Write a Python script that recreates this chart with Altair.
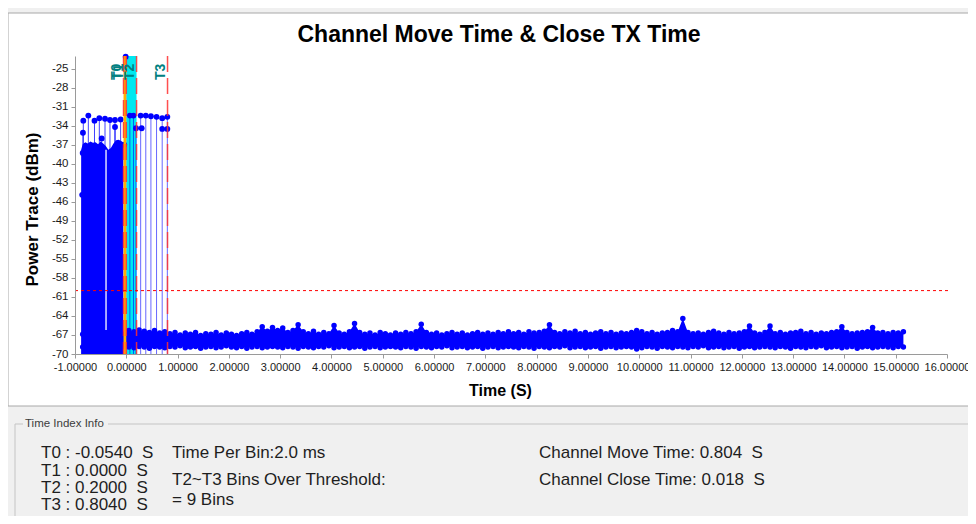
import altair as alt
import pandas as pd

# ---------------- data ----------------
noise_t = [
    -0.85, -0.75, -0.65, -0.55, -0.45, -0.35, -0.25, -0.15, -0.05, 0.05,
    0.15, 0.25, 0.35, 0.45, 0.55, 0.65, 0.75, 0.85, 0.95, 1.05,
    1.15, 1.25, 1.35, 1.45, 1.55, 1.65, 1.75, 1.85, 1.95, 2.05,
    2.15, 2.25, 2.35, 2.45, 2.55, 2.65, 2.75, 2.85, 2.95, 3.05,
    3.15, 3.25, 3.35, 3.45, 3.55, 3.65, 3.75, 3.85, 3.95, 4.05,
    4.15, 4.25, 4.35, 4.45, 4.55, 4.65, 4.75, 4.85, 4.95, 5.05,
    5.15, 5.25, 5.35, 5.45, 5.55, 5.65, 5.75, 5.85, 5.95, 6.05,
    6.15, 6.25, 6.35, 6.45, 6.55, 6.65, 6.75, 6.85, 6.95, 7.05,
    7.15, 7.25, 7.35, 7.45, 7.55, 7.65, 7.75, 7.85, 7.95, 8.05,
    8.15, 8.25, 8.35, 8.45, 8.55, 8.65, 8.75, 8.85, 8.95, 9.05,
    9.15, 9.25, 9.35, 9.45, 9.55, 9.65, 9.75, 9.85, 9.95, 10.05,
    10.15, 10.25, 10.35, 10.45, 10.55, 10.65, 10.75, 10.85, 10.95, 11.05,
    11.15, 11.25, 11.35, 11.45, 11.55, 11.65, 11.75, 11.85, 11.95, 12.05,
    12.15, 12.25, 12.35, 12.45, 12.55, 12.65, 12.75, 12.85, 12.95, 13.05,
    13.15, 13.25, 13.35, 13.45, 13.55, 13.65, 13.75, 13.85, 13.95, 14.05,
    14.15, 14.25, 14.35, 14.45, 14.55, 14.65, 14.75, 14.85, 14.95, 15.05,
    15.15,
]
noise_hi = [
    -66.9, -67.0, -66.8, -67.1, -66.9, -67.0, -66.8, -67.0, -66.9, -66.3,
    -66.5, -66.2, -66.4, -66.6, -66.3, -66.7, -66.5, -66.8, -66.6, -67.0,
    -66.7, -66.9, -66.6, -67.1, -66.8, -66.9, -66.6, -67.0, -66.7, -66.9,
    -67.1, -66.8, -66.6, -66.9, -66.5, -65.7, -66.4, -65.8, -66.3, -65.9,
    -66.6, -66.3, -65.4, -66.5, -66.8, -66.4, -66.9, -66.6, -66.8, -65.5,
    -66.7, -66.9, -66.5, -65.2, -66.6, -66.9, -66.7, -67.0, -66.6, -66.8,
    -67.0, -66.7, -66.9, -66.6, -66.8, -66.5, -65.3, -66.6, -66.9, -66.7,
    -67.0, -66.8, -66.6, -66.9, -66.7, -67.0, -66.8, -66.6, -66.9, -66.7,
    -66.9, -66.6, -66.8, -66.5, -66.8, -66.6, -66.9, -66.5, -66.7, -66.6,
    -66.4, -65.4, -66.6, -66.8, -66.5, -66.7, -66.4, -66.8, -66.6, -66.9,
    -66.7, -66.5, -66.8, -66.6, -66.9, -66.7, -66.8, -66.6, -66.3, -66.5,
    -66.8, -66.6, -66.9, -66.7, -66.6, -66.3, -66.5, -64.4, -66.6, -66.8,
    -66.7, -66.9, -66.6, -66.4, -66.7, -66.9, -66.6, -66.8, -66.7, -66.5,
    -65.6, -66.7, -66.9, -66.6, -65.6, -66.8, -66.6, -66.9, -66.7, -66.6,
    -66.4, -66.8, -66.6, -66.9, -66.7, -66.8, -66.6, -66.5, -65.7, -66.6,
    -66.8, -66.7, -66.6, -66.5, -65.8, -66.7, -66.6, -66.8, -66.6, -66.7,
    -66.5,
]
noise_lo = [
    -68.9, -69.0, -68.8, -69.1, -68.9, -68.8, -69.0, -68.9, -68.8, -68.9,
    -69.0, -68.8, -68.9, -69.1, -68.8, -68.9, -69.0, -68.8, -68.9, -68.7,
    -69.0, -68.9, -68.8, -69.1, -68.9, -68.8, -69.0, -68.9, -68.7, -68.9,
    -69.0, -68.8, -69.1, -68.9, -68.8, -69.0, -68.9, -68.8, -68.9, -69.0,
    -68.8, -68.9, -69.1, -68.8, -68.9, -69.0, -68.8, -68.9, -68.7, -69.0,
    -68.9, -68.8, -69.0, -68.9, -68.8, -69.1, -68.9, -68.8, -69.0, -68.9,
    -68.8, -68.9, -69.0, -68.8, -68.9, -69.1, -68.8, -68.9, -69.0, -68.8,
    -68.9, -68.7, -69.0, -68.9, -68.8, -69.0, -68.9, -68.8, -69.1, -68.9,
    -68.8, -69.0, -68.9, -68.8, -68.9, -69.0, -68.8, -68.9, -69.1, -68.8,
    -68.9, -69.0, -68.8, -68.9, -68.7, -69.0, -68.9, -68.8, -69.0, -68.9,
    -68.8, -69.1, -68.9, -68.8, -69.0, -68.9, -68.8, -68.9, -69.2, -69.0,
    -68.8, -68.9, -69.1, -68.8, -68.9, -69.0, -68.8, -68.9, -69.0, -68.8,
    -68.9, -68.7, -69.0, -68.9, -68.8, -69.0, -68.9, -68.8, -69.1, -68.9,
    -68.8, -69.0, -68.9, -68.8, -68.9, -69.0, -68.8, -68.9, -69.1, -68.8,
    -68.9, -69.0, -68.8, -68.9, -68.7, -69.0, -68.9, -68.8, -69.0, -68.9,
    -68.8, -69.1, -68.9, -68.8, -69.0, -68.9, -68.8, -68.9, -69.0, -68.8,
    -68.9,
]

# dense burst before T0 (upper edge of the solid mass)
burst_t = [-0.88, -0.85, -0.80, -0.75, -0.70, -0.65, -0.60, -0.55, -0.50,
           -0.45, -0.40, -0.35, -0.30, -0.25, -0.20, -0.15, -0.10, -0.06]
burst_top = [-37.8, -36.9, -36.6, -36.8, -36.5, -36.7, -36.6, -36.9, -36.5,
             -36.8, -37.2, -37.8, -37.5, -36.8, -36.3, -36.2, -36.4, -36.6]

# isolated peaks (stems with dots) in the burst
burst_dot_t = [-0.860, -0.850, -0.845, -0.838, -0.740, -0.620, -0.526, -0.480,
               -0.415, -0.318, -0.220, -0.220, -0.110, -0.040, -0.012]
burst_dot_v = [-44.9, -38.3, -35.1, -33.2, -32.4, -33.2, -32.8, -36.0,
               -32.9, -33.1, -34.2, -33.1, -33.0, -37.0, -23.1]

# gap in the burst
gap_t = [-0.395]
gap_lo = [-66.2]
gap_hi = [-37.8]

# stems between T1 and T3
post_t = [0.07, 0.14, 0.19, 0.28, 0.38, 0.48, 0.59, 0.70, 0.80]
post_v = [-32.4, -32.4, -34.4, -32.4, -32.4, -32.5, -32.6, -32.8, -32.6]
post2_t = [0.30, 0.70, 0.80]
post2_v = [-34.4, -34.5, -34.5]

marker_names = ["T0", "T1", "T2", "T3"]
marker_t = [-0.054, 0.0, 0.2, 0.804]
threshold = [-60]

x_ticks = [-1, 0, 1, 2, 3, 4, 5, 6, 7, 8, 9, 10, 11, 12, 13, 14, 15, 16]
y_ticks = [-70, -67, -64, -61, -58, -55, -52, -49, -46, -43, -40, -37, -34,
           -31, -28, -25]

title_text = "Channel Move Time & Close TX Time"
x_title = "Time (S)"
y_title = "Power Trace (dBm)"
box_title = "Time Index Info"
t_lines = ["T0 : -0.0540\u00a0 S", "T1 : 0.0000\u00a0 S",
           "T2 : 0.2000\u00a0 S", "T3 : 0.8040\u00a0 S"]
mid_lines = ["Time Per Bin:2.0 ms", "T2~T3 Bins Over Threshold:", "= 9 Bins"]
right_lines = ["Channel Move Time: 0.804\u00a0 S", "Channel Close Time: 0.018\u00a0 S"]

# ---------------- chart ----------------
W, H = 872, 298
FONT = "Liberation Sans"
BLUE = "#0000ff"

xs = alt.Scale(domain=[-1, 16], nice=False, zero=False)
ys = alt.Scale(domain=[-70, -23], nice=False, zero=False)

x_axis = alt.Axis(
    values=x_ticks, grid=False, tickSize=4, labelPadding=3, zindex=1,
    labelExpr="(datum.value < 0 ? '-' : '') + format(abs(datum.value), '.5f')",
    labelFont=FONT, labelFontSize=11, labelColor="#1a1a1a",
    labelFlush=False, labelOverlap=False,
    domainColor="#9a9a9a", tickColor="#9a9a9a",
    title=x_title, titleFont=FONT, titleFontSize=16, titleFontWeight="bold",
    titleColor="#000000", titleX=425, titleY=41.5, titleAlign="center",
    titleBaseline="alphabetic",
)
y_axis = alt.Axis(
    values=y_ticks, grid=False, tickSize=4, labelPadding=3, zindex=1,
    labelExpr="'' + datum.value",
    labelFont=FONT, labelFontSize=11.5, labelColor="#1a1a1a",
    labelFlush=False, labelOverlap=False,
    domainColor="#9a9a9a", tickColor="#9a9a9a",
    title=y_title, titleFont=FONT, titleFontSize=17, titleFontWeight="bold",
    titleColor="#000000", titleX=-34, titleY=H / 2 + 4, titleAngle=270,
    titleAlign="center", titleBaseline="bottom",
)


def X(field):
    return alt.X(field, type="quantitative", scale=xs, axis=x_axis)


def Y(field):
    return alt.Y(field, type="quantitative", scale=ys, axis=y_axis)


one = alt.Data(values=[{}])


def label(txt, x, y, size, weight="normal", color="#1e1e1e",
          align="left", baseline="alphabetic"):
    return alt.Chart(one).mark_text(
        text=txt, font=FONT, fontSize=size, fontWeight=weight, color=color,
        align=align, baseline=baseline,
    ).encode(x=alt.value(x), y=alt.value(y))


noise_df = pd.DataFrame({"t": noise_t, "hi": noise_hi, "lo": noise_lo})
burst_df = pd.DataFrame({"t": burst_t, "top": burst_top})
bdot_df = pd.DataFrame({"t": burst_dot_t, "v": burst_dot_v})
gap_df = pd.DataFrame({"t": gap_t, "lo": gap_lo, "hi": gap_hi})
post_df = pd.DataFrame({"t": post_t, "v": post_v})
post2_df = pd.DataFrame({"t": post2_t, "v": post2_v})
mk_df = pd.DataFrame({"name": marker_names, "t": marker_t})
span_df = pd.DataFrame({"a": [marker_t[1]], "b": [marker_t[2]]})
orange_df = pd.DataFrame({"a": [marker_t[0]], "b": [marker_t[1]]})
thr_df = pd.DataFrame({"v": threshold})

panel = alt.Chart(one).mark_rect(fill="white", stroke="#a8a8a8", strokeWidth=1).encode(
    x=alt.value(-67), x2=alt.value(920), y=alt.value(-43), y2=alt.value(350))

box_l = alt.Chart(one).mark_rule(color="#c4c4c4").encode(
    x=alt.value(-60), x2=alt.value(-52), y=alt.value(368))
box_r = alt.Chart(one).mark_rule(color="#c4c4c4").encode(
    x=alt.value(33), x2=alt.value(920), y=alt.value(368))
box_v = alt.Chart(one).mark_rule(color="#c4c4c4").encode(
    x=alt.value(-60), y=alt.value(368), y2=alt.value(480))

cyan = alt.Chart(span_df).mark_rect(color="#00e8f0", opacity=1).encode(
    x=X("a"), x2="b", y=alt.value(0), y2=alt.value(H))

band = alt.Chart(noise_df).mark_area(color=BLUE, opacity=1).encode(
    x=X("t"), y=Y("hi"), y2="lo")
band_hi = alt.Chart(noise_df).mark_circle(color=BLUE, opacity=1, size=30).encode(
    x=X("t"), y=Y("hi"))
band_lo = alt.Chart(noise_df).mark_circle(color=BLUE, opacity=1, size=30).encode(
    x=X("t"), y=Y("lo"))

burst = alt.Chart(burst_df).mark_area(color=BLUE, opacity=1).encode(
    x=X("t"), y=Y("top"), y2=alt.datum(-70))
bstem = alt.Chart(bdot_df).mark_rule(color=BLUE, strokeWidth=1, opacity=0.75).encode(
    x=X("t"), y=Y("v"), y2=alt.datum(-70))
bdot = alt.Chart(bdot_df).mark_circle(color=BLUE, opacity=1, size=34).encode(
    x=X("t"), y=Y("v"))
gap = alt.Chart(gap_df).mark_rule(color="#dcdcff", strokeWidth=1.5).encode(
    x=X("t"), y=Y("hi"), y2="lo")

pstem = alt.Chart(post_df).mark_rule(color=BLUE, strokeWidth=1, opacity=0.6).encode(
    x=X("t"), y=Y("v"), y2=alt.datum(-70))
pdot = alt.Chart(post_df).mark_circle(color=BLUE, opacity=1, size=34).encode(
    x=X("t"), y=Y("v"))
pdot2 = alt.Chart(post2_df).mark_circle(color=BLUE, opacity=1, size=34).encode(
    x=X("t"), y=Y("v"))

orange = alt.Chart(orange_df).mark_rect(color="#ffb000", opacity=1).encode(
    x=X("a"), x2="b", y=alt.value(0), y2=alt.value(H))

red_lines = alt.Chart(mk_df).mark_rule(
    color="#ff3030", strokeWidth=1.5, opacity=0.85, strokeDash=[16, 6]).encode(
    x=X("t"), y=alt.value(0), y2=alt.value(H))

thr = alt.Chart(thr_df).mark_rule(color="#ff0000", strokeWidth=1, strokeDash=[3, 3]).encode(
    y=Y("v"), x=alt.value(0), x2=alt.value(W + 1))

t_labels = alt.Chart(mk_df).mark_text(
    angle=270, align="left", baseline="bottom", font=FONT, fontSize=14,
    fontWeight="bold", color="#008080").encode(
    x=X("t"), y=alt.value(24), text="name:N")

layers = [panel, box_l, box_r, box_v, cyan, band, band_hi, band_lo,
          burst, bstem, bdot, gap, pstem, pdot, pdot2, orange, red_lines,
          thr, t_labels,
          label(title_text, 424, -14.5, 23, weight="bold", color="#000000",
                align="center"),
          label(box_title, -50, 368, 11.5, color="#3c3c3c", baseline="middle")]

for i, s in enumerate(t_lines):
    layers.append(label(s, -34, [402, 419.5, 436.5, 453.5][i], 17))
for i, s in enumerate(mid_lines):
    layers.append(label(s, 97, [402, 429, 449][i], 17))
for i, s in enumerate(right_lines):
    layers.append(label(s, 464, [402, 429][i], 17))

chart = alt.layer(*layers).properties(
    width=W, height=H,
    padding={"left": 67, "top": 48, "right": 21, "bottom": 162},
    autosize=alt.AutoSizeParams(type="none"),
).configure(background="#f0f0f0").configure_view(stroke="transparent")

chart.save("out.html", embed_options={"renderer": "svg", "actions": False})
